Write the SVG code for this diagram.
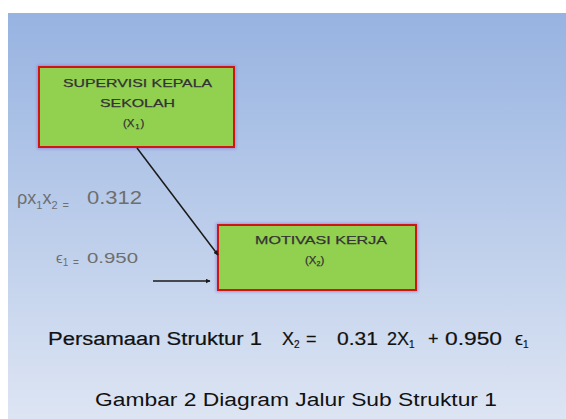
<svg xmlns="http://www.w3.org/2000/svg" width="566" height="419" viewBox="0 0 566 419">
<defs>
<linearGradient id="bg" x1="0" y1="0" x2="0" y2="1">
<stop offset="0" stop-color="#97b3e1"/>
<stop offset="1" stop-color="#dde5f3"/>
</linearGradient>
<filter id="glow" x="-10%" y="-10%" width="120%" height="120%">
<feGaussianBlur stdDeviation="1.5"/>
</filter>
<marker id="ah" viewBox="0 0 10 10" refX="9" refY="5" markerWidth="5" markerHeight="5" orient="auto" markerUnits="userSpaceOnUse">
<path d="M0,0 L10,5 L0,10 z" fill="#1a1a1a"/>
</marker>
<style>
.node{fill:#92d050;stroke:#d01515;stroke-width:2}
.halo{fill:none;stroke:#8a6fd0;stroke-width:4;opacity:0.6;filter:url(#glow)}
.nt{font-family:"Liberation Sans",Arial,sans-serif;font-size:11.5px;fill:#333;stroke:#333;stroke-width:0.25}
.lbl{font-family:"Liberation Sans",Arial,sans-serif;fill:#6e6e6e}
.cap{font-family:"Liberation Sans",Arial,sans-serif;fill:#111}
.conn{stroke:#1a1a1a;stroke-width:1.5;fill:none}
</style>
</defs>
<rect x="0" y="0" width="566" height="419" fill="#ffffff"/>
<rect x="8" y="13" width="558" height="406" fill="url(#bg)"/>

<g id="node-x1">
<rect class="halo" x="39" y="67" width="195" height="80"/>
<rect class="node" x="39" y="67" width="195" height="80"/>
<text class="nt" x="63" y="87" textLength="149" lengthAdjust="spacingAndGlyphs">SUPERVISI KEPALA</text>
<text class="nt" x="100" y="107" textLength="75" lengthAdjust="spacingAndGlyphs">SEKOLAH</text>
<text class="nt" x="123" y="127">(X<tspan font-size="7" dy="2" dx="1">1</tspan><tspan dy="-2" dx="1">)</tspan></text>
</g>

<g id="node-x2">
<rect class="halo" x="218" y="225" width="198" height="65"/>
<rect class="node" x="218" y="225" width="198" height="65"/>
<text class="nt" x="255" y="244" textLength="132" lengthAdjust="spacingAndGlyphs">MOTIVASI KERJA</text>
<text class="nt" x="305" y="264">(X<tspan font-size="7" dy="2">2</tspan><tspan dy="-2">)</tspan></text>
</g>

<g id="connectors">
<line class="conn" x1="137" y1="148" x2="218" y2="255" marker-end="url(#ah)"/>
<line class="conn" x1="153" y1="281" x2="210" y2="281" marker-end="url(#ah)"/>
</g>

<g id="labels">
<text class="lbl" font-size="18" x="17" y="204">ρx<tspan font-size="11" dy="5">1</tspan><tspan dy="-5">x</tspan><tspan font-size="11" dy="5">2</tspan><tspan font-size="11" dx="2"> =</tspan><tspan x="87" dy="-5" textLength="55" lengthAdjust="spacingAndGlyphs">0.312</tspan></text>
<text class="lbl" font-size="15" x="56" y="263">ϵ<tspan font-size="10" dy="3">1</tspan><tspan font-size="10" dx="2"> =</tspan><tspan x="87" dy="-3" textLength="51" lengthAdjust="spacingAndGlyphs">0.950</tspan></text>
</g>

<g id="caption">
<text class="cap" font-size="18" y="345" stroke="#111" stroke-width="0.2"><tspan x="48" textLength="214" lengthAdjust="spacingAndGlyphs">Persamaan Struktur 1</tspan><tspan x="282">X</tspan><tspan font-size="10" dy="3">2</tspan><tspan x="306" dy="-3">=</tspan><tspan x="337" textLength="41" lengthAdjust="spacingAndGlyphs">0.31</tspan><tspan x="387">2X</tspan><tspan font-size="10" dy="3">1</tspan><tspan x="428" dy="-3">+</tspan><tspan x="445" textLength="57" lengthAdjust="spacingAndGlyphs">0.950</tspan><tspan x="515">ϵ</tspan><tspan font-size="10" dy="3">1</tspan></text>
<text class="cap" font-size="18" fill="#333" x="95" y="406" textLength="402" lengthAdjust="spacingAndGlyphs">Gambar 2 Diagram Jalur  Sub Struktur 1</text>
</g>
</svg>
